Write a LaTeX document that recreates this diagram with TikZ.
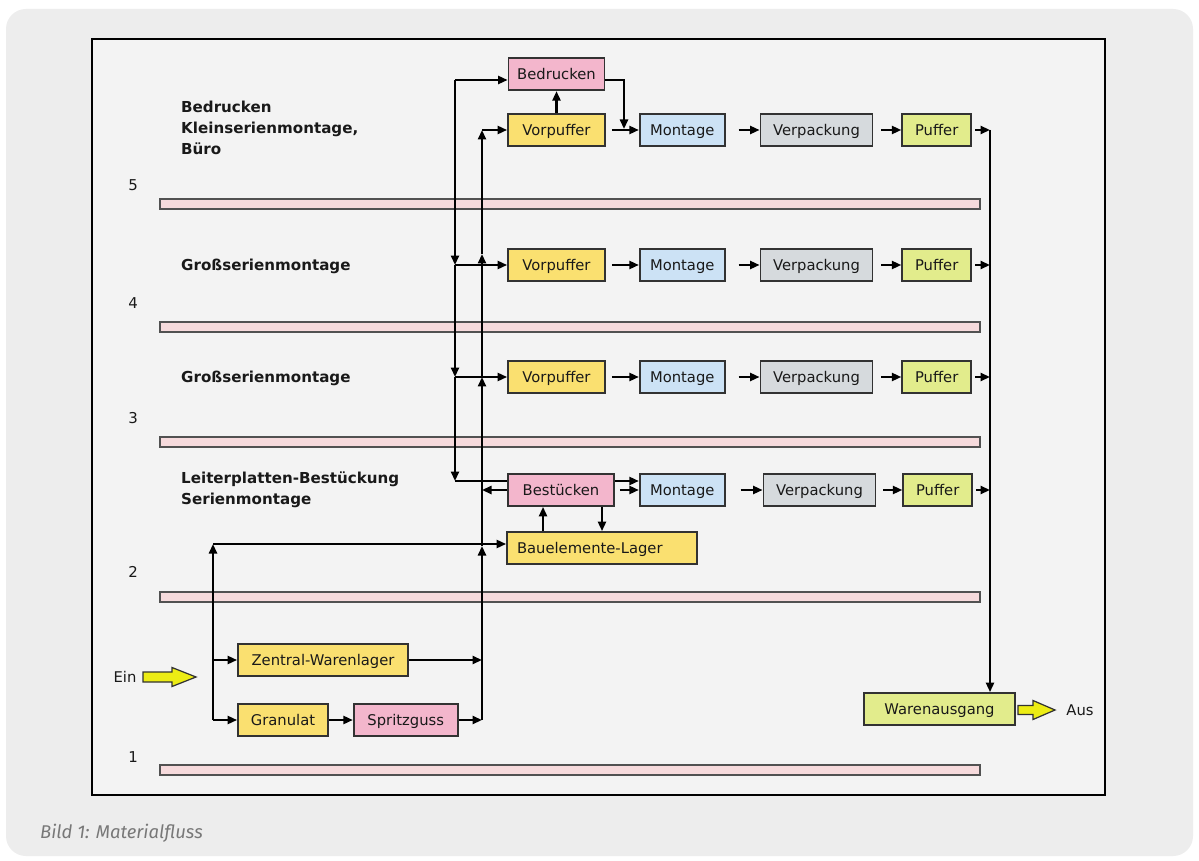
\documentclass[tikz,border=0pt]{standalone}
\usepackage{fontspec}
\setmainfont{DejaVu Sans}
\newfontfamily\capfont{Fira Sans}
\usetikzlibrary{arrows.meta,positioning}

\definecolor{panelgray}{RGB}{237,237,237}
\definecolor{framegray}{RGB}{243,243,243}
\definecolor{lagergelb}{RGB}{250,224,112}
\definecolor{druckrosa}{RGB}{243,182,204}
\definecolor{montblau}{RGB}{204,226,245}
\definecolor{packgrau}{RGB}{214,218,221}
\definecolor{puffgruen}{RGB}{226,236,140}
\definecolor{bodenrosa}{RGB}{246,218,220}
\definecolor{randgrau}{RGB}{50,50,50}
\definecolor{pfeilgelb}{RGB}{236,236,20}
\definecolor{capgrau}{RGB}{120,120,120}
\definecolor{schrift}{RGB}{25,25,25}

\begin{document}
\begin{tikzpicture}[x=0.02cm, y=-0.02cm,
    every node/.style={font=\fontsize{8.4}{10}\selectfont, text=schrift},
    box/.style={draw=randgrau, line width=1pt, minimum height=0.64cm, inner sep=0.1cm,
        text height=7.3pt, text depth=1pt},
    gelb/.style={box, fill=lagergelb},
    rosa/.style={box, fill=druckrosa},
    blau/.style={box, fill=montblau, minimum width=1.70cm},
    grau/.style={box, fill=packgrau, minimum width=2.24cm},
    gruen/.style={box, fill=puffgruen},
    fluss/.style={line width=1.3pt, -{Triangle[length=0.19cm,width=0.16cm]}},
    linie/.style={line width=1.3pt},
    boden/.style={draw=randgrau!85, line width=0.8pt, fill=bodenrosa},
    stock/.style={font=\fontsize{8.5}{10}\selectfont},
    bereich/.style={font=\bfseries\fontsize{8.6}{11.9}\selectfont, align=left, anchor=west},
    blockpfeil/.style={draw=randgrau, line width=0.7pt, fill=pfeilgelb}]
    \useasboundingbox (0,0) rectangle (1199,861);
    \fill[white] (0,0) rectangle (1199,861);
    \fill[panelgray, rounded corners=0.4cm] (6,9) rectangle (1193,856);
    \draw[line width=1.5pt, fill=framegray] (92,39) rectangle (1105,795);

    % Stockwerke
    \foreach \y in {204,327,442,597,770}
        \draw[boden] (160,{\y-5}) rectangle (980,{\y+5});
    \foreach \n/\y in {5/185,4/303,3/418,2/572,1/757}
        \node[stock] (s\n) at (133,\y) {\n};

    \node[bereich] (b5) at (175,128) {Bedrucken\\Kleinserienmontage,\\Büro};
    \node[bereich] (b4) at (175,266) {Großserienmontage};
    \node[bereich] (b3) at (175,378) {Großserienmontage};
    \node[bereich] (b2) at (175,490) {Leiterplatten-Bestückung\\Serienmontage};

    % Fertigungszeilen
    \foreach \r/\y in {5/130,4/265,3/377} {
        \node[gelb, minimum width=1.94cm] (vp\r) at (556.5,\y) {Vorpuffer};
        \node[blau, right=0.66cm of vp\r] (mo\r) {Montage};
        \node[grau, right=0.68cm of mo\r] (ve\r) {Verpackung};
        \node[gruen, minimum width=1.38cm, right=0.56cm of ve\r] (pu\r) {Puffer};
    }
    \node[rosa, minimum width=1.92cm, above=0.44cm of vp5] (bedr) {Bedrucken};
    \node[rosa, minimum width=2.12cm] (bes) at (561,490) {Bestücken};
    \node[blau, right=0.48cm of bes] (mo2) {Montage};
    \node[grau, right=0.74cm of mo2] (ve2) {Verpackung};
    \node[gruen, minimum width=1.38cm, right=0.52cm of ve2] (pu2) {Puffer};
    \node[gelb, inner xsep=0.2cm, text width=3.4cm, align=left] (lag) at (602,548) {Bauelemente-Lager};

    \node[gelb, minimum width=3.4cm] (zen) at (323,660) {Zentral-Warenlager};
    \node[gelb, minimum width=1.8cm] (gra) at (283,720) {Granulat};
    \node[rosa, minimum width=2.08cm, right=0.48cm of gra] (spr) {Spritzguss};
    \node[gruen, minimum width=3.02cm] (wa) at (939.5,709) {Warenausgang};

    \node (ein) at (125,677) {Ein};
    \node (aus) at (1080,710) {Aus};
    \draw[blockpfeil] (143,672) -- (172,672) -- (172,667.5) -- (196,677)
        -- (172,686.5) -- (172,682) -- (143,682) -- cycle;
    \draw[blockpfeil] (1018,705.5) -- (1033,705.5) -- (1033,700.5) -- (1055,710)
        -- (1033,719.5) -- (1033,714.5) -- (1018,714.5) -- cycle;

    % Verteilung nach oben
    \coordinate (d5) at (455,80);
    \coordinate (d4) at (455,265);
    \coordinate (d3) at (455,377);
    \coordinate (d2) at (455,481);
    \draw[fluss] (d5) -- (d5 -| bedr.west);
    \draw[fluss] (d5) -- (d4);
    \draw[fluss] (d4) -- (d3);
    \draw[fluss] (d3) -- (d2);
    \draw[fluss] (d4) -- (vp4.west);
    \draw[fluss] (d3) -- (vp3.west);
    \draw[linie] (d2) -- (d2 -| bes.west);
    \draw[fluss] (d2 -| bes.east) -- (d2 -| mo2.west);

    \coordinate (u1) at (482,720);
    \coordinate (uz) at (482,660);
    \coordinate (ul) at (482,546);
    \coordinate (u3) at (482,377);
    \coordinate (u4) at (482,254);
    \coordinate (u5) at (482,130);
    \draw[fluss] (spr) -- (u1);
    \draw[fluss] (zen) -- (uz);
    \draw[fluss] (u1) -- (ul);
    \draw[fluss] (ul) -- (u3);
    \draw[fluss] (u3) -- (u4);
    \draw[fluss] (u4) -- (u5);
    \draw[fluss] (u5) -- (vp5.west);
    \draw[fluss] (bes.west) -- (bes.west -| u3);

    \coordinate (l1) at (213,720);
    \coordinate (lz) at (213,660);
    \coordinate (ll) at (213,544);
    \draw[linie] (l1) -- (lz);
    \draw[fluss] (lz) -- (ll);
    \draw[fluss] (ll) -- (ll -| lag.west);
    \draw[fluss] (lz) -- (zen);
    \draw[fluss] (l1) -- (gra);
    \draw[fluss] (gra) -- (spr);

    % Bedrucken und Bestuecken
    \coordinate (bm) at (624,129);
    \draw[fluss] (vp5) -- (bedr);
    \draw[fluss] (bedr.east |- d5) -| (bm);
    \draw[fluss] ([xshift=-1.18cm]lag.north) -- ([xshift=-1.18cm]lag.north |- bes.south);
    \draw[fluss] (lag.north |- bes.south) -- (lag.north);

    % Zeilen bis zum Ausgang
    \coordinate (r5) at (990,130);
    \foreach \r in {5,4,3} {
        \draw[fluss, shorten <=0.12cm] (vp\r) -- (mo\r);
        \draw[fluss, shorten <=0.26cm] (mo\r) -- (ve\r);
        \draw[fluss, shorten <=0.16cm] (ve\r) -- (pu\r);
        \draw[fluss, shorten <=0.06cm] (pu\r) -- (pu\r -| r5);
    }
    \draw[fluss, shorten <=0.1cm] (bes) -- (mo2);
    \draw[fluss, shorten <=0.3cm] (mo2) -- (ve2);
    \draw[fluss, shorten <=0.14cm] (ve2) -- (pu2);
    \draw[fluss, shorten <=0.06cm] (pu2) -- (pu2 -| r5);
    \draw[fluss] (r5) -- (r5 |- wa.north);

    \node[anchor=west, font=\capfont\itshape\fontsize{10.5}{12}\selectfont, text=capgrau] (cap) at (34,833) {Bild 1: Materialfluss};
\end{tikzpicture}
\end{document}
